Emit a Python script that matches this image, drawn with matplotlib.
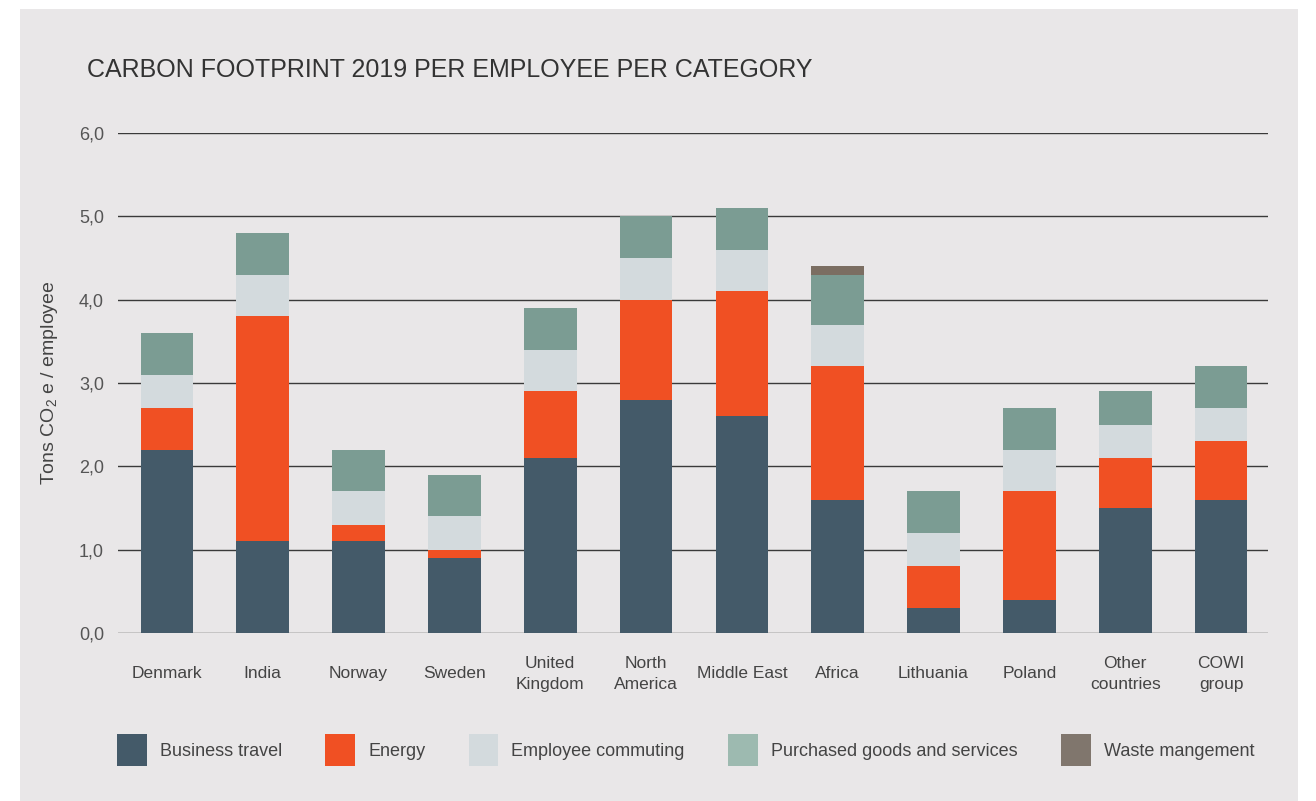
import matplotlib
matplotlib.use("Agg")
import matplotlib.pyplot as plt
from matplotlib.patches import Rectangle, Patch
import numpy as np

plt.rcParams['font.family'] = ['Liberation Sans', 'DejaVu Sans']
plt.rcParams['mathtext.fontset'] = 'custom'
plt.rcParams['mathtext.rm'] = 'Liberation Sans'
plt.rcParams['mathtext.it'] = 'Liberation Sans'

categories = ["Denmark", "India", "Norway", "Sweden", "United\nKingdom", "North\nAmerica",
              "Middle East", "Africa", "Lithuania", "Poland", "Other\ncountries", "COWI\ngroup"]
business_travel = [2.2, 1.1, 1.1, 0.9, 2.1, 2.8, 2.6, 1.6, 0.3, 0.4, 1.5, 1.6]
energy =          [0.5, 2.7, 0.2, 0.1, 0.8, 1.2, 1.5, 1.6, 0.5, 1.3, 0.6, 0.7]
commuting =       [0.4, 0.5, 0.4, 0.4, 0.5, 0.5, 0.5, 0.5, 0.4, 0.5, 0.4, 0.4]
purchased =       [0.5, 0.5, 0.5, 0.5, 0.5, 0.5, 0.5, 0.6, 0.5, 0.5, 0.4, 0.5]
waste =           [0.0, 0.0, 0.0, 0.0, 0.0, 0.0, 0.0, 0.1, 0.0, 0.0, 0.0, 0.0]
series_names = ["Business travel", "Energy", "Employee commuting",
                "Purchased goods and services", "Waste mangement"]
yticks = [0, 1, 2, 3, 4, 5, 6]

bar_colors = ["#445a69", "#f05023", "#d3dadd", "#7b9c93", "#7b6e62"]
legend_colors = ["#445a69", "#f05023", "#d3dadd", "#9dbab0", "#80766d"]
bg = "#e9e7e8"

fig = plt.figure(figsize=(13.16, 8.01), dpi=100)
fig.patch.set_facecolor("white")
fig.add_artist(Rectangle((20/1316, 0), (1298-20)/1316, (801-9)/801,
                         transform=fig.transFigure, facecolor=bg, edgecolor="none", zorder=0))

ax = fig.add_axes([118/1316, (801-633)/801, (1268-118)/1316, (633-133)/801])
ax.set_facecolor("none")
x = np.arange(len(categories))
bottom = np.zeros(len(categories))
for vals, c in zip([business_travel, energy, commuting, purchased, waste], bar_colors):
    v = np.array(vals)
    ax.bar(x, v, bottom=bottom, width=0.55, color=c, zorder=3, linewidth=0)
    bottom += v

ax.set_ylim(0, 6)
ax.set_xlim(-0.51, len(categories) - 0.51)
ax.set_yticks(yticks)
ax.set_yticklabels([f"{t:.1f}".replace(".", ",") for t in yticks], fontsize=13, color="#555555")
ax.yaxis.grid(True, color="#3a3a3a", linewidth=1.0, zorder=1)
ax.set_axisbelow(True)
ax.tick_params(axis="y", length=0, pad=10)
ax.tick_params(axis="x", length=0, pad=29.5)
ax.set_xticks(x)
ax.set_xticklabels(categories, fontsize=12.5, color="#444444", linespacing=1.5)
for lab in ax.get_xticklabels():
    lab.set_va("center")
    lab.set_multialignment("center")
for s in ax.spines.values():
    s.set_visible(False)

ax.set_ylabel("Tons CO$_2$ e / employee", fontsize=14, color="#444444", labelpad=14)

fig.text(87/1316, 1 - 70/801, "CARBON FOOTPRINT 2019 PER EMPLOYEE PER CATEGORY",
         fontsize=18, color="#333333", ha="left", va="center")

handles = [Patch(facecolor=c, edgecolor="none") for c in legend_colors]
fig.legend(handles, series_names, loc="center left", bbox_to_anchor=(117/1316, 1 - 750/801),
           ncol=5, frameon=False, fontsize=13, handlelength=1.65, handleheight=2.4,
           handletextpad=0.72, columnspacing=2.4, labelcolor="#444444", borderaxespad=0,
           borderpad=0)

fig.savefig("out.png", dpi=100, facecolor=fig.get_facecolor())
